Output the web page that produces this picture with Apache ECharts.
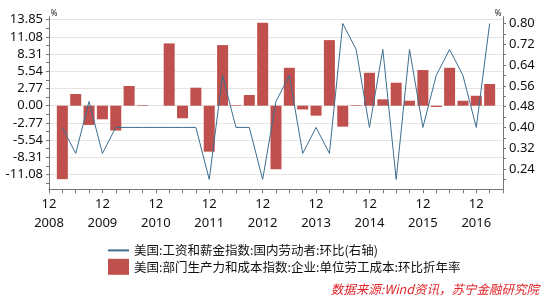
<!DOCTYPE html>
<html><head><meta charset="utf-8">
<script src="https://cdn.jsdelivr.net/npm/echarts@6/dist/echarts.min.js"></script>
<style>html,body{margin:0;padding:0;background:#fff}#c{width:548px;height:300px}</style>
</head><body><div id="c"></div>
<script>
var categories = ['2008-12','2009-03','2009-06','2009-09','2009-12','2010-03','2010-06','2010-09','2010-12',
  '2011-03','2011-06','2011-09','2011-12','2012-03','2012-06','2012-09','2012-12',
  '2013-03','2013-06','2013-09','2013-12','2014-03','2014-06','2014-09','2014-12',
  '2015-03','2015-06','2015-09','2015-12','2016-03','2016-06','2016-09','2016-12','2017-03','2017-06'];
var laborCost = [null,-11.83,1.88,-3.1,-2.19,-4.0,3.17,0.1,0,10.03,-2.03,2.9,-7.4,9.76,0.1,1.72,13.35,
  -10.23,6.1,-0.6,-1.6,10.56,-3.37,0.1,5.3,1.03,3.7,0.8,5.74,-0.2,6.1,0.8,1.6,3.49,null];
var wageIndex = [null,0.4,0.3,0.5,0.3,0.4,0.4,0.4,0.4,0.4,0.4,0.4,0.2,0.6,0.4,0.4,0.2,
  0.5,0.6,0.3,0.4,0.3,0.8,0.7,0.4,0.7,0.2,0.7,0.4,0.6,0.7,0.6,0.4,0.8,null];
var leftLabels = [-11.08,-8.31,-5.54,-2.77,0.00,2.77,5.54,8.31,11.08,13.85];
var leftMinorTicks = [-12.465,-11.08,-9.695,-8.31,-6.925,-5.54,-4.155,-2.77,-1.385,0,1.385,2.77,4.155,5.54,6.925,8.31,9.695,11.08,12.465,13.85];
var rightLabels = [0.24,0.32,0.40,0.48,0.56,0.64,0.72,0.80];
var rightTicks = [0.20,0.24,0.28,0.32,0.36,0.40,0.44,0.48,0.52,0.56,0.60,0.64,0.68,0.72,0.76,0.80];
var lineName = '美国:工资和薪金指数:国内劳动者:环比(右轴)';
var barName = '美国:部门生产力和成本指数:企业:单位劳工成本:环比折年率';

var numFont = 'Noto Sans';
var cjkFont = '"Noto Sans CJK SC"';
var axisColor = '#777';
var chart = echarts.init(document.getElementById('c'), null, {renderer:'canvas'});
var L = {min:-13.46, max:14.33};
var R = {min:0.162, max:0.826};
chart.setOption({
  animation:false,
  grid:{left:49, right:45, top:16.7, bottom:110.7, containLabel:false},
  legend:{
    orient:'vertical', left:102, top:239, itemWidth:21, itemHeight:16, itemGap:2,
    textStyle:{fontFamily:cjkFont, fontSize:12.5, color:'#111'},
    data:[{name:lineName, itemStyle:{opacity:0}},{name:barName, icon:'rect'}]
  },
  xAxis:{
    type:'category', data:categories, boundaryGap:false,
    axisLine:{onZero:false, lineStyle:{color:axisColor}},
    axisTick:{interval:0, length:4, lineStyle:{color:axisColor}},
    axisLabel:{
      interval:function(i){return i%4===0;},
      formatter:function(v){var p=v.split('-');return p[1]+'\n'+p[0];},
      fontFamily:numFont, fontSize:13, color:'#111', lineHeight:19, margin:5
    },
    splitLine:{show:false}
  },
  yAxis:[
    {type:'value', position:'left', min:L.min, max:L.max,
     axisLine:{show:true, lineStyle:{color:axisColor}},
     axisTick:{show:true, length:3, customValues:leftMinorTicks, lineStyle:{color:axisColor}},
     axisLabel:{customValues:leftLabels, formatter:function(v){return v.toFixed(2);}, fontFamily:numFont, fontSize:13, color:'#111', margin:6},
     splitLine:{show:false}},
    {type:'value', position:'right', min:R.min, max:R.max,
     axisLine:{show:true, lineStyle:{color:axisColor}},
     axisTick:{show:true, length:3, customValues:rightTicks, lineStyle:{color:axisColor}},
     axisLabel:{customValues:rightLabels, formatter:function(v){return v.toFixed(2);}, fontFamily:numFont, fontSize:13, color:'#111', margin:6},
     splitLine:{show:false}},
    {type:'value', position:'left', offset:0, min:L.min, max:L.max,
     axisLine:{show:false}, axisLabel:{show:false},
     axisTick:{show:false, customValues:leftLabels},
     splitLine:{show:true, lineStyle:{color:'#e4e4e4', width:1}}}
  ],
  series:[
    {name:barName, type:'bar', yAxisIndex:0, data:laborCost, barWidth:11,
     itemStyle:{color:'#c0504d'}, z:2},
    {name:lineName, type:'line', yAxisIndex:1, data:wageIndex, symbol:'none', showSymbol:false,
     lineStyle:{color:'#3d6e8f', width:1}, itemStyle:{color:'#3d6e8f'}, z:3}
  ],
  graphic:[
    {type:'text', x:54, y:14, style:{text:'%', font:'8px '+numFont, fill:'#222', textAlign:'center', textVerticalAlign:'middle'}},
    {type:'text', x:498, y:14, style:{text:'%', font:'8px '+numFont, fill:'#222', textAlign:'center', textVerticalAlign:'middle'}},
    {type:'text', x:539, y:289, style:{text:'数据来源:Wind资讯，苏宁金融研究院', font:'italic 12.5px '+cjkFont, fill:'#e0262b', textAlign:'right', textVerticalAlign:'middle'}}
  ]
});
</script></body></html>
